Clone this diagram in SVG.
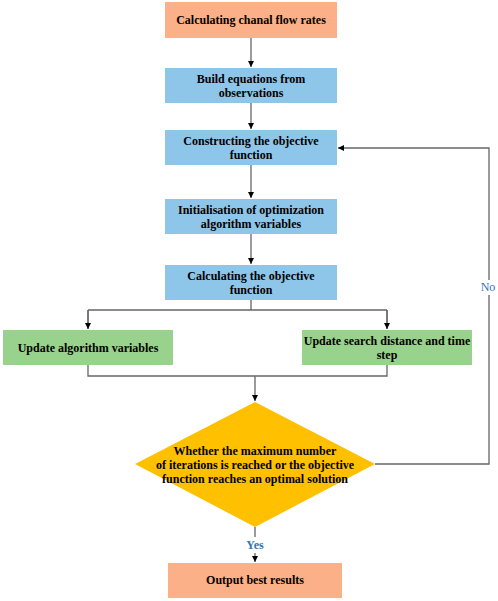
<svg xmlns="http://www.w3.org/2000/svg" width="498" height="601" viewBox="0 0 498 601">
<style>
.t{font-family:"Liberation Serif","Times New Roman",serif;font-weight:bold;font-size:12px;fill:#000;text-anchor:middle}
.o{fill:#FBB088}
.b{fill:#8EC6EA}
.g{fill:#98D28C}
.y{fill:#FFC000}
.c{fill:none;stroke:#666;stroke-width:1.3}
.l{font-family:"Liberation Serif","Times New Roman",serif;font-size:12px;fill:#2E75B6;text-anchor:middle}
</style>
<defs>
<marker id="a" viewBox="0 0 10 10" refX="10" refY="5" markerWidth="6" markerHeight="6" orient="auto" markerUnits="userSpaceOnUse">
<path d="M0,0L10,5L0,10z" fill="#000"/>
</marker>
</defs>
<rect width="498" height="601" fill="#fff"/>
<g id="connectors">
<path class="c" d="M251,38V67" marker-end="url(#a)"/>
<path class="c" d="M251,103V129" marker-end="url(#a)"/>
<path class="c" d="M251,165V198" marker-end="url(#a)"/>
<path class="c" d="M251,234V264" marker-end="url(#a)"/>
<path class="c" d="M251,300V310M88,310H387M88,310V329M387,310V329" />
<path class="c" d="M88,310V329" marker-end="url(#a)"/>
<path class="c" d="M387,310V329" marker-end="url(#a)"/>
<path class="c" d="M88,365V376H387V365M255,376V401" marker-end="url(#a)"/>
<path class="c" d="M375,464H489V295M489,280V148H338" marker-end="url(#a)"/>
<path class="c" d="M255,527V537M255,553V562" marker-end="url(#a)"/>
<text class="l" x="488" y="291">No</text>
<text class="l" x="255" y="549" style="font-weight:bold">Yes</text>
</g>
<g id="n1"><rect class="o" x="165" y="2" width="172" height="36"/><text class="t" x="251" y="24">Calculating chanal flow rates</text></g>
<g id="n2"><rect class="b" x="165" y="68" width="172" height="35"/><text class="t" x="251" y="83">Build equations from</text><text class="t" x="251" y="97">observations</text></g>
<g id="n3"><rect class="b" x="165" y="130" width="172" height="35"/><text class="t" x="251" y="145">Constructing the objective</text><text class="t" x="251" y="159">function</text></g>
<g id="n4"><rect class="b" x="165" y="199" width="172" height="35"/><text class="t" x="251" y="214">Initialisation of optimization</text><text class="t" x="251" y="228">algorithm variables</text></g>
<g id="n5"><rect class="b" x="165" y="265" width="172" height="35"/><text class="t" x="251" y="280">Calculating the objective</text><text class="t" x="251" y="294">function</text></g>
<g id="n6"><rect class="g" x="3" y="330" width="170" height="35"/><text class="t" x="88" y="352">Update algorithm variables</text></g>
<g id="n7"><rect class="g" x="302" y="330" width="170" height="35"/><text class="t" x="387" y="345">Update search distance and time</text><text class="t" x="387" y="359">step</text></g>
<g id="n8"><path class="y" d="M255,402L375,464L255,527L135,464z"/><text class="t" x="255" y="455">Whether the maximum number</text><text class="t" x="255" y="469">of iterations is reached or the objective</text><text class="t" x="255" y="483">function reaches an optimal solution</text></g>
<g id="n9"><rect class="o" x="168" y="563" width="174" height="35"/><text class="t" x="255" y="584">Output best results</text></g>
</svg>
